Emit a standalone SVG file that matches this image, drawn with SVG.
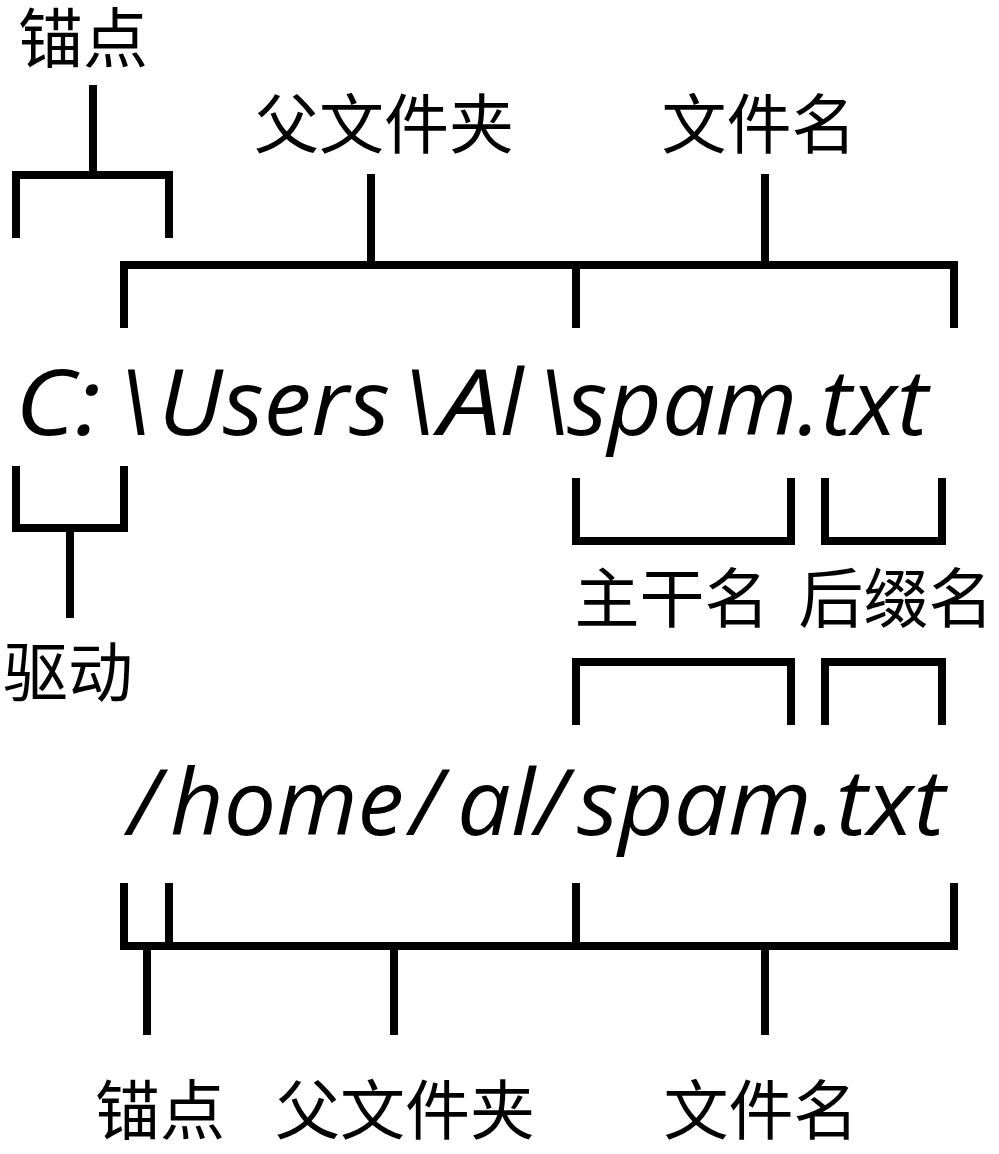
<svg xmlns="http://www.w3.org/2000/svg" width="999" height="1154" viewBox="0 0 999 1154">
<style>
.ln{fill:none;stroke:#000;stroke-width:8;stroke-linecap:butt;stroke-linejoin:miter}
.lb{font-family:"Noto Sans CJK SC","Noto Sans CJK TC",sans-serif;font-size:65px;fill:#000;text-anchor:middle}
.path{font-family:"Open Sans","Noto Sans",sans-serif;font-style:italic;font-size:92px;fill:#000}
</style>
<rect width="999" height="1154" fill="#fff"/>
<g id="connectors">
<path class="ln" d="M16,238 V175 H169 V238"/>
<path class="ln" d="M93,85 V175"/>
<path class="ln" d="M124,328 V265 H954 V328"/>
<path class="ln" d="M576,265 V328"/>
<path class="ln" d="M371,174 V265"/>
<path class="ln" d="M765,174 V265"/>
<path class="ln" d="M16,466 V528 H124 V466"/>
<path class="ln" d="M70,528 V618"/>
<path class="ln" d="M576,478 V541 H791 V478"/>
<path class="ln" d="M825,478 V541 H942 V478"/>
<path class="ln" d="M576,725 V662 H791 V725"/>
<path class="ln" d="M825,725 V662 H942 V725"/>
<path class="ln" d="M124,883 V946 H954 V883"/>
<path class="ln" d="M169,883 V946"/>
<path class="ln" d="M576,883 V946"/>
<path class="ln" d="M147,946 V1035"/>
<path class="ln" d="M394,946 V1035"/>
<path class="ln" d="M765,946 V1035"/>
</g>
<g id="win-path">
<text class="path" y="435"><tspan x="15" textLength="86" lengthAdjust="spacingAndGlyphs">C:</tspan><tspan x="118">\</tspan><tspan x="158" textLength="232" lengthAdjust="spacingAndGlyphs">Users</tspan><tspan x="402">\</tspan><tspan x="439" textLength="62" lengthAdjust="spacingAndGlyphs">A</tspan><tspan x="500">l</tspan><tspan x="537">\</tspan><tspan x="567" textLength="361" lengthAdjust="spacingAndGlyphs">spam.txt</tspan></text>
</g>
<g id="posix-path">
<text class="path" y="835"><tspan x="128">/</tspan><tspan x="170" textLength="234" lengthAdjust="spacingAndGlyphs">home</tspan><tspan x="410">/</tspan><tspan x="457" textLength="78" lengthAdjust="spacingAndGlyphs">al</tspan><tspan x="535">/</tspan><tspan x="577" textLength="368" lengthAdjust="spacingAndGlyphs">spam.txt</tspan></text>
</g>
<g id="label-anchor-top"><text class="lb" x="83" y="62">锚点</text></g>
<g id="label-parent-top"><text class="lb" x="384" y="148">父文件夹</text></g>
<g id="label-name-top"><text class="lb" x="759" y="148">文件名</text></g>
<g id="label-drive"><text class="lb" x="68" y="696">驱动</text></g>
<g id="label-stem"><text class="lb" x="672" y="622">主干名</text></g>
<g id="label-suffix"><text class="lb" x="896" y="622">后缀名</text></g>
<g id="label-anchor-bottom"><text class="lb" x="160" y="1134">锚点</text></g>
<g id="label-parent-bottom"><text class="lb" x="405" y="1134">父文件夹</text></g>
<g id="label-name-bottom"><text class="lb" x="761" y="1134">文件名</text></g>
</svg>
